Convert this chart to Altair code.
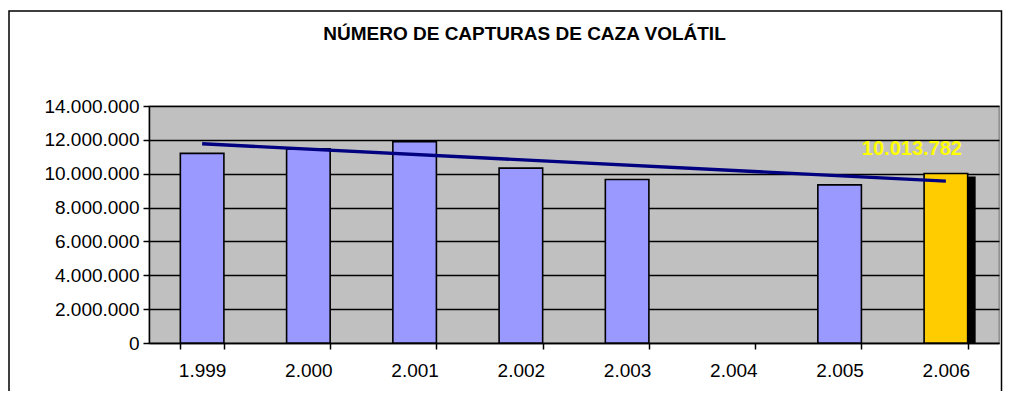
import altair as alt
import pandas as pd

# ---- data ----
years = ["1.999", "2.000", "2.001", "2.002", "2.003", "2.004", "2.005", "2.006"]
capturas = [11200000, 11470000, 11890000, 10330000, 9660000, None, 9340000, 10013782]
tipo = ["normal", "normal", "normal", "normal", "normal", "normal", "normal", "destacado"]
trend_years = ["1.999", "2.006"]
trend_values = [11770000, 9560000]
y_ticks = [0, 2000000, 4000000, 6000000, 8000000, 10000000, 12000000, 14000000]
title_text = "NÚMERO DE CAPTURAS DE CAZA VOLÁTIL"

df = pd.DataFrame({"anio": years, "capturas": capturas, "tipo": tipo})
trend = pd.DataFrame({"anio": trend_years, "tendencia": trend_values})

W, H = 850, 237
FONT = "Liberation Sans"
fmt = "replace(format(datum.value, ','), /,/g, '.')"

x_scale = alt.Scale(domain=years, paddingInner=0.59, paddingOuter=0.295)
y_scale = alt.Scale(domain=[0, 14000000], nice=False)

x_axis = alt.Axis(title=None, labelAngle=0, tickBand="extent",
                  labelFont=FONT, labelFontSize=19, labelColor="black",
                  labelPadding=12, tickSize=6, tickColor="black",
                  domainColor="black", domainWidth=1.5, tickWidth=1.5,
                  grid=False, labelOverlap=False)
y_axis = alt.Axis(title=None, values=y_ticks, labelExpr=fmt,
                  labelFont=FONT, labelFontSize=19, labelColor="black",
                  labelPadding=4, tickSize=6, tickColor="black",
                  tickWidth=1.5, domainColor="black", domainWidth=1.5,
                  grid=True, gridColor="black", gridWidth=1.4,
                  gridOpacity=1, labelOverlap=False, labelFlush=False)

x_enc = alt.X("anio:N", scale=x_scale, sort=years, axis=x_axis)
y_enc = alt.Y("capturas:Q", scale=y_scale, axis=y_axis)

base = alt.Chart(df)

border = alt.Chart(pd.DataFrame({"b": [0]})).mark_rect(
    filled=False, stroke="black", strokeWidth=1.5, clip=False
).encode(x=alt.value(-140), x2=alt.value(W + 2.5), y=alt.value(-95), y2=alt.value(H + 200))

title = alt.Chart(pd.DataFrame({"t": [title_text]})).mark_text(
    font=FONT, fontSize=19, fontWeight="bold", color="black",
    align="center", baseline="alphabetic", clip=False
).encode(x=alt.value(375.5), y=alt.value(-66), text="t:N")

shadow = base.transform_filter("datum.tipo == 'destacado'").mark_bar(
    color="black", xOffset=8, yOffset=3, clip=True
).encode(x=x_enc, y=y_enc)

bars = base.mark_bar(stroke="black", strokeWidth=1.6).encode(
    x=x_enc, y=y_enc,
    color=alt.Color("tipo:N", scale=alt.Scale(domain=["normal", "destacado"],
                                              range=["#9999FF", "#FFCC00"]), legend=None),
)

line = alt.Chart(trend).mark_line(color="#000080", strokeWidth=3.4).encode(
    x=x_enc,
    y=alt.Y("tendencia:Q", scale=y_scale, axis=y_axis),
)

label = base.transform_filter("datum.tipo == 'destacado'").transform_calculate(
    etiqueta="replace(format(datum.capturas, ','), /,/g, '.')"
).mark_text(
    color="#FFFF00", fontWeight="bold", fontSize=20, font=FONT,
    dx=-34, dy=-18, baseline="alphabetic", align="center"
).encode(x=x_enc, y=y_enc, text="etiqueta:N")

chart = alt.layer(border, title, shadow, bars, line, label).properties(
    width=W, height=H,
    autosize=alt.AutoSizeParams(type="none"),
    padding={"left": 141, "top": 98, "right": 4, "bottom": 48},
).configure(
    background="white",
    view=alt.ViewConfig(fill="#C0C0C0", stroke="#808080", strokeWidth=1.3),
)

chart.save("out.html", embed_options={"renderer": "svg", "actions": False})
